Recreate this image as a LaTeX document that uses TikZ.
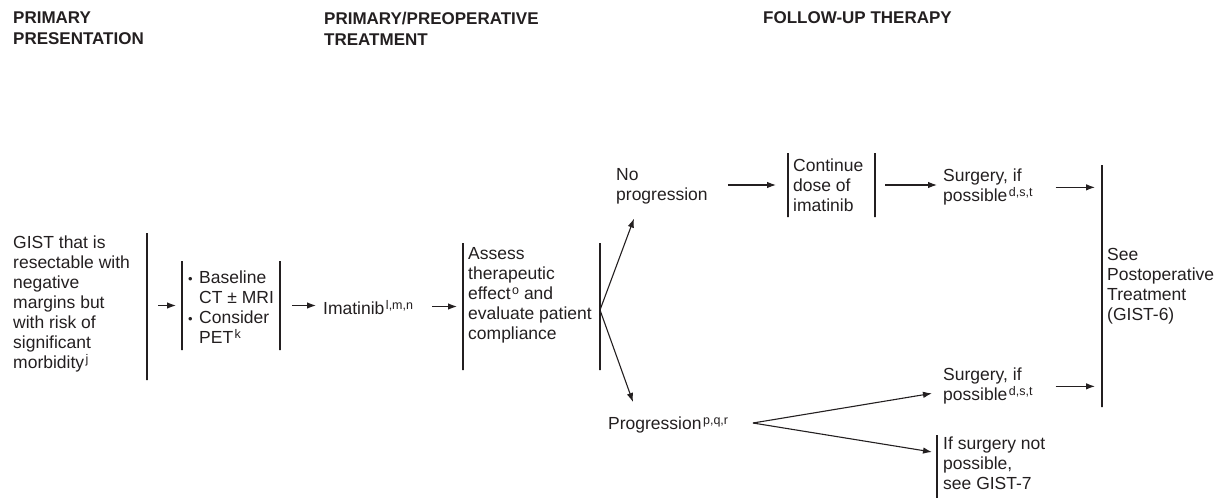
\documentclass[tikz,border=0pt]{standalone}
\usepackage{fontspec}
\setmainfont{Liberation Sans}
\usetikzlibrary{arrows.meta}

\definecolor{ink}{RGB}{35,31,32}
\newcommand{\fnote}[1]{\kern1.5pt\raisebox{5pt}{\fontsize{12.5}{12.5}\selectfont #1}}
\newcommand{\bul}{\makebox[13pt][l]{\hspace{2pt}{\fontsize{13}{13}\selectfont •}}}

\tikzset{
	txt/.style={anchor=north west, align=left, inner sep=0pt, text=ink, font=\fontsize{17.5}{20}\selectfont},
	head/.style={anchor=north west, align=left, inner sep=0pt, text=ink, font=\fontsize{17}{21}\selectfont\bfseries},
	vbar/.style={draw=ink, line width=1.3pt, inner sep=0pt, minimum width=0pt, outer sep=0pt},
	arr/.style={draw=ink, line width=1.1pt, -{Latex[length=9pt,width=6.5pt]}}
}

\begin{document}
\begin{tikzpicture}[x=1pt, y=-1pt]
		\useasboundingbox (0,0) rectangle (1221,498);

		\node[head] (colA) at (13,12) {PRIMARY\\PRESENTATION};
		\node[head] (colB) at (324,12) {PRIMARY/PREOPERATIVE\\TREATMENT};
		\node[head] (colC) at (763,11) {FOLLOW-UP THERAPY};

		\node[txt] (gist) at (13,236) {GIST that is\\resectable with\\negative\\margins but\\with risk of\\significant\\morbidity\fnote{j}};
		\node[vbar, minimum height=147pt] (gistbar) at (147,306.5) {};

		\node[txt] (workup) at (186,271) {\bul Baseline\\\hspace*{13pt}CT ± MRI\\\bul Consider\\\hspace*{13pt}PET\fnote{k}};
		\node[vbar, minimum height=89pt] (listL) at (182,305.5) {};
		\node[vbar, minimum height=89pt] (listR) at (280,305.5) {};

		\node[txt, anchor=base west] (imatinib) at (323,314) {Imatinib\fnote{l,m,n}};

		\node[txt] (assess) at (468,247) {Assess\\therapeutic\\effect\fnote{o} and\\evaluate patient\\compliance};
		\node[vbar, minimum height=127pt] (assessL) at (463,306.5) {};
		\node[vbar, minimum height=127pt] (assessR) at (600,306.5) {};

		\node[txt] (noprog) at (616,168) {No\\progression};
		\node[txt, anchor=base west] (prog) at (608,429) {Progression\fnote{p,q,r}};

		\node[txt] (contdose) at (793,159) {Continue\\dose of\\imatinib};
		\node[vbar, minimum height=64pt] (contL) at (788,185) {};
		\node[vbar, minimum height=64pt] (contR) at (875,185) {};

		\node[txt] (surgA) at (943,169) {Surgery, if\\possible\fnote{d,s,t}};
		\node[txt] (surgB) at (943,368) {Surgery, if\\possible\fnote{d,s,t}};
		\node[txt] (nosurg) at (943,437) {If surgery not\\possible,\\see GIST-7};
		\node[vbar, minimum height=63pt] (nosurgbar) at (937,466.5) {};

		\node[txt] (postop) at (1107,248) {See\\Postoperative\\Treatment\\(GIST-6)};
		\node[vbar, minimum height=242pt] (postbar) at (1102,286) {};

		\coordinate (fork) at ([shift={(0,3.5)}]assessR.center);
		\coordinate (split) at ([shift={(145,-6)}]prog.base west);

		\draw[arr] ([shift={(11,0)}]listL.center -| gistbar.center) -- ([shift={(-6,0)}]listL.center);
		\draw[arr] ([shift={(12,0)}]listR.center) -- ([shift={(-7,0)}]listR.center -| imatinib.west);
		\draw[arr] ([shift={(19,0)}]assessL.center -| imatinib.east) -- ([shift={(-6,0)}]assessL.center);
		\draw[arr] (fork) -- ([shift={(18,14.5)}]noprog.south west);
		\draw[arr] (fork) -- ([shift={(25,-27)}]prog.base west);
		\draw[arr] ([shift={(20,0)}]contL.center -| noprog.east) -- ([shift={(-12,0)}]contL.center);
		\draw[arr] ([shift={(10,0)}]contR.center) -- ([shift={(-6,0)}]contR.center -| surgA.west);
		\draw[arr] ([shift={(23,0)}]surgA.east) -- ([shift={(-7,0)}]surgA.east -| postbar.center);
		\draw[arr] (split) -- ([shift={(-11,7)}]surgB.west);
		\draw[arr] (split) -- ([shift={(-11,15)}]nosurg.north west);
		\draw[arr] ([shift={(23,0)}]surgB.east) -- ([shift={(-7,0)}]surgB.east -| postbar.center);

	\end{tikzpicture}
\end{document}
